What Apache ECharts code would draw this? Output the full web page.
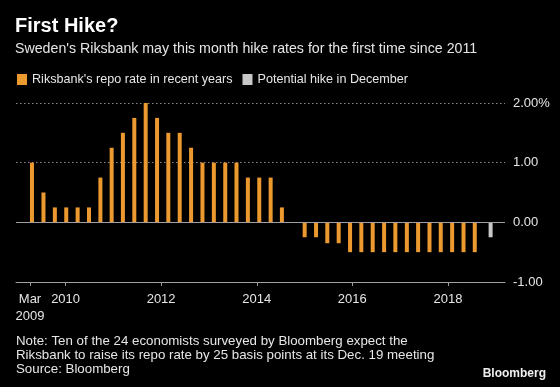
<!DOCTYPE html>
<html>
<head>
<meta charset="utf-8">
<script src="https://cdn.jsdelivr.net/npm/echarts@6/dist/echarts.min.js"></script>
<style>
html,body{margin:0;padding:0;background:#000;}
#chart{width:560px;height:387px;}
</style>
</head>
<body>
<div id="chart"></div>
<script>
// Riksbank repo rate, dates of bars
const repoDates = [
  '2009-04-19','2009-07-16','2009-10-11','2010-01-06','2010-04-03','2010-06-29','2010-09-24','2010-12-19',
  '2011-03-15','2011-06-10','2011-09-05','2011-12-01','2012-02-25','2012-05-22','2012-08-17','2012-11-12',
  '2013-02-07','2013-05-05','2013-07-30','2013-10-25','2014-01-20','2014-04-17','2014-07-12','2014-10-07',
  '2015-01-02','2015-03-30','2015-06-24','2015-09-19','2015-12-15','2016-03-10','2016-06-05','2016-08-31',
  '2016-11-25','2017-02-21','2017-05-18','2017-08-13','2017-11-07','2018-02-02','2018-04-30','2018-07-25'
];
const repoValues = [
  1.00, 0.50, 0.25, 0.25, 0.25, 0.25, 0.75, 1.25,
  1.50, 1.75, 2.00, 1.75, 1.50, 1.50, 1.25, 1.00,
  1.00, 1.00, 1.00, 0.75, 0.75, 0.75, 0.25, 0.00,
  -0.25, -0.25, -0.35, -0.35, -0.50, -0.50, -0.50, -0.50,
  -0.50, -0.50, -0.50, -0.50, -0.50, -0.50, -0.50, -0.50
];
const hikeDates = ['2018-11-23'];
const hikeValues = [-0.25];

const xTickDates = ['2009-04-04','2010-01-01','2012-01-01','2014-01-01','2016-01-01','2018-01-01'];
const xTickLabels = ['Mar\n2009','2010','2012','2014','2016','2018'];
const yTickLabels = {'-1': '-1.00', '0': '0.00', '1': '1.00', '2': '2.00%'};

const xMinDate = '2008-12-18';
const xMaxDate = '2019-03-13';

const ts = d => Date.parse(d + 'T00:00:00Z');
const tickTs = xTickDates.map(ts);

const FONT = 'Liberation Sans';
const TXT = '#e6e6e6';

const chart = echarts.init(document.getElementById('chart'), null, {renderer: 'canvas'});
chart.setOption({
  backgroundColor: '#000',
  animation: false,
  textStyle: {fontFamily: FONT},
  grid: {left: 16, right: 55, top: 103, bottom: 105, outerBoundsMode: 'none', containLabel: false},
  legend: {
    left: 12, top: 68,
    itemWidth: 10, itemHeight: 11, itemGap: 10,
    icon: 'rect',
    textStyle: {color: TXT, fontSize: 12.6, fontFamily: FONT},
    data: ["Riksbank's repo rate in recent years", 'Potential hike in December']
  },
  xAxis: {
    type: 'value',
    min: ts(xMinDate), max: ts(xMaxDate),
    axisLine: {show: true, onZero: false, lineStyle: {color: '#a0a0a0', width: 1}},
    axisTick: {show: true, length: 4, customValues: tickTs, lineStyle: {color: '#a0a0a0'}},
    axisLabel: {
      customValues: tickTs,
      color: TXT, fontSize: 13, fontFamily: FONT, lineHeight: 17, margin: 9,
      formatter: v => { const i = tickTs.indexOf(v); return i >= 0 ? xTickLabels[i] : ''; }
    },
    splitLine: {show: false}
  },
  yAxis: {
    type: 'value', position: 'right',
    min: -1, max: 2, interval: 1,
    axisLine: {show: false}, axisTick: {show: false},
    axisLabel: {
      color: TXT, fontSize: 13, fontFamily: FONT, margin: 8, align: 'left',
      formatter: v => yTickLabels[String(Math.round(v))]
    },
    splitLine: {show: true, lineStyle: {color: '#888', type: [1.5, 2.5], width: 1}}
  },
  series: [
    {
      name: "Riksbank's repo rate in recent years",
      type: 'bar', barWidth: 4, barGap: '-100%',
      itemStyle: {color: '#ec9a30'},
      data: repoDates.map((d, i) => [ts(d), repoValues[i]]),
      markLine: {
        silent: true, symbol: 'none', label: {show: false},
        lineStyle: {color: '#a0a0a0', type: 'solid', width: 1},
        data: [{yAxis: 0}]
      }
    },
    {
      name: 'Potential hike in December',
      type: 'bar', barWidth: 4, barGap: '-100%',
      itemStyle: {color: '#c8c8c8'},
      data: hikeDates.map((d, i) => [ts(d), hikeValues[i]])
    }
  ],
  graphic: [
    {type: 'text', left: 15, top: 16, style: {text: 'First Hike?', fill: '#fff', font: 'bold 20px "' + FONT + '"'}},
    {type: 'text', left: 15, top: 42, style: {text: "Sweden's Riksbank may this month hike rates for the first time since 2011", fill: TXT, font: '14.2px "' + FONT + '"'}},
    {type: 'text', left: 16, top: 334, style: {
      text: 'Note: Ten of the 24 economists surveyed by Bloomberg expect the\nRiksbank to raise its repo rate by 25 basis points at its Dec. 19 meeting\nSource: Bloomberg',
      fill: TXT, font: '13.3px "' + FONT + '"', lineHeight: 14.2}},
    {type: 'text', right: 14, top: 368, style: {text: 'Bloomberg', fill: '#f0f0f0', font: 'bold 12px "' + FONT + '"'}}
  ]
});
</script>
</body>
</html>
